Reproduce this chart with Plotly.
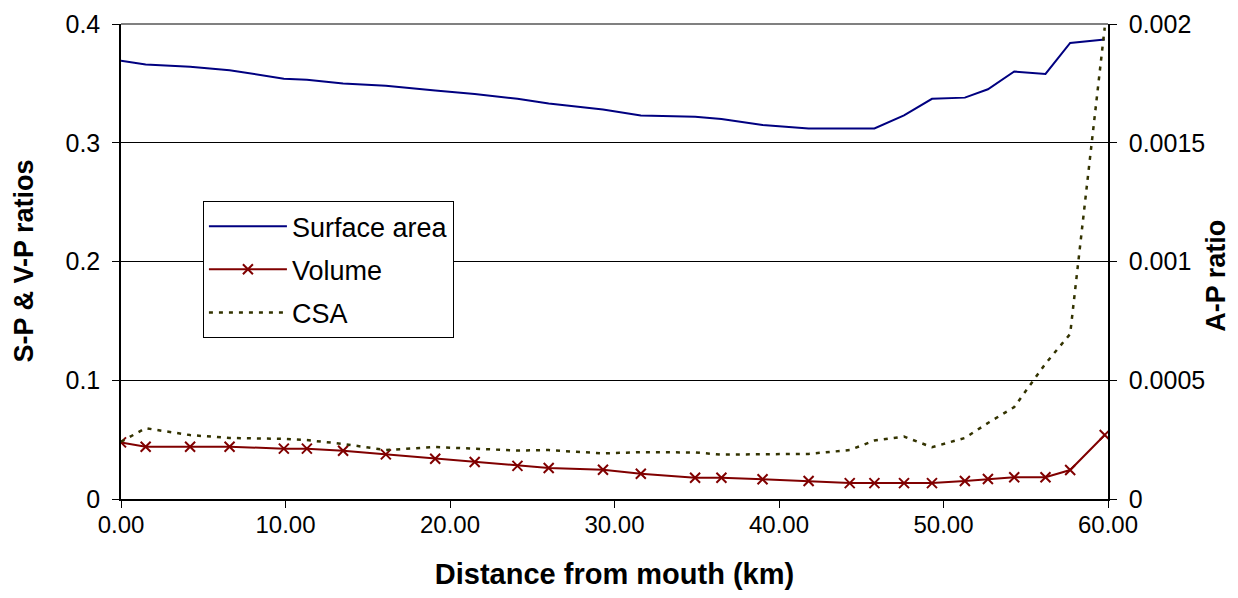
import plotly.graph_objects as go

distance_km = [0, 1.5, 4.2, 6.6, 9.9, 11.3, 13.5, 16.1, 19.1, 21.5, 24.1, 26.0, 29.3, 31.6,
               34.9, 36.5, 39.0, 41.8, 44.3, 45.8, 47.6, 49.3, 51.3, 52.7, 54.3, 56.2, 57.7, 59.8]

surface_area = [0.369, 0.366, 0.364, 0.361, 0.354, 0.353, 0.350, 0.348, 0.344, 0.341, 0.337,
                 0.333, 0.328, 0.323, 0.322, 0.320, 0.315, 0.312, 0.312, 0.312, 0.323, 0.337,
                 0.338, 0.345, 0.360, 0.358, 0.384, 0.387]

volume = [0.0477, 0.0440, 0.0440, 0.0440, 0.0424, 0.0424, 0.0407, 0.0376, 0.0339, 0.0312,
          0.0279, 0.0261, 0.0247, 0.0213, 0.0179, 0.0179, 0.0166, 0.0152, 0.0134, 0.0134,
          0.0134, 0.0134, 0.0152, 0.0168, 0.0183, 0.0183, 0.0244, 0.0539]

csa = [0.000241, 0.000298, 0.000269, 0.000257, 0.000253, 0.000248, 0.000232, 0.000206,
       0.000219, 0.000213, 0.000204, 0.000206, 0.000192, 0.000197, 0.000196, 0.000187,
       0.000188, 0.000190, 0.000206, 0.000246, 0.000263, 0.000218, 0.000257, 0.000320,
       0.000387, 0.000570, 0.000695, 0.001985]

left_ticks = [0, 0.1, 0.2, 0.3, 0.4]
left_tick_labels = ["0", "0.1", "0.2", "0.3", "0.4"]
right_ticks = [0, 0.0005, 0.001, 0.0015, 0.002]
right_tick_labels = ["0", "0.0005", "0.001", "0.0015", "0.002"]
x_ticks = [0, 10, 20, 30, 40, 50, 60]
x_tick_labels = ["0.00", "10.00", "20.00", "30.00", "40.00", "50.00", "60.00"]

FONT = "Liberation Sans, Arial, sans-serif"

# page body has an 8px default margin; figure sized to fit inside the window
W, H = 1222, 582
ML, MT = 113, 16
PW, PH = 987, 475

fig = go.Figure()
fig.add_trace(go.Scatter(
    x=distance_km, y=surface_area, name="Surface area", mode="lines",
    legendgroup="a",
    line=dict(color="#000080", width=2)))
fig.add_trace(go.Scatter(
    x=distance_km, y=volume, name="Volume", mode="lines+markers",
    legendgroup="b",
    line=dict(color="#800000", width=2),
    marker=dict(symbol="x-thin", size=10, line=dict(color="#800000", width=2))))
fig.add_trace(go.Scatter(
    x=distance_km, y=csa, name="CSA", mode="lines", yaxis="y2",
    legendgroup="c",
    line=dict(color="#333300", width=2.5, dash="4px,6px")))

fig.update_layout(
    width=W, height=H,
    margin=dict(l=ML, r=W - ML - PW, t=MT, b=H - MT - PH, autoexpand=False),
    paper_bgcolor="white", plot_bgcolor="white",
    font=dict(family=FONT, color="black", size=24),
    showlegend=True,
    legend=dict(x=0.083, y=0.627, xanchor="left", yanchor="top",
                bgcolor="white", bordercolor="black", borderwidth=1,
                font=dict(size=27, family=FONT), itemwidth=78,
                tracegroupgap=5),
    xaxis=dict(range=[0, 60], tickvals=x_ticks, ticktext=x_tick_labels,
               automargin=False,
               showgrid=False, zeroline=False, showline=True, linecolor="black",
               linewidth=1.5, ticks="outside", ticklen=7, tickcolor="black",
               tickfont=dict(size=24), ticklabelstandoff=-4,
               title=dict(text="<b>Distance from mouth (km)</b>", font=dict(size=29),
                          standoff=31)),
    yaxis=dict(range=[0, 0.4], tickvals=left_ticks, ticktext=left_tick_labels,
               automargin=False,
               showgrid=True, gridcolor="black", gridwidth=1, zeroline=False,
               showline=True, linecolor="black", linewidth=1.5,
               ticks="outside", ticklen=7, tickcolor="black",
               tickfont=dict(size=25), ticklabelstandoff=7),
    yaxis2=dict(range=[0, 0.002], tickvals=right_ticks, ticktext=right_tick_labels,
                automargin=False,
                overlaying="y", side="right", showgrid=False, zeroline=False,
                showline=True, linecolor="black", linewidth=1.5,
                ticks="outside", ticklen=7, tickcolor="black",
                tickfont=dict(size=25), ticklabelstandoff=7),
    shapes=[dict(type="line", xref="paper", yref="paper", x0=0, x1=1, y0=1, y1=1,
                 line=dict(color="#808080", width=2))],
    annotations=[
        dict(text="<b>S-P & V-P ratios</b>", textangle=-90, showarrow=False,
             xref="paper", yref="paper", x=-(ML - 15) / PW, y=0.5,
             xanchor="center", yanchor="middle", font=dict(size=27)),
        dict(text="<b>A-P ratio</b>", textangle=-90, showarrow=False,
             xref="paper", yref="paper", x=1 + (1208 - ML - PW) / PW, y=0.47,
             xanchor="center", yanchor="middle", font=dict(size=27)),
    ],
)

fig.write_html("out.html")
